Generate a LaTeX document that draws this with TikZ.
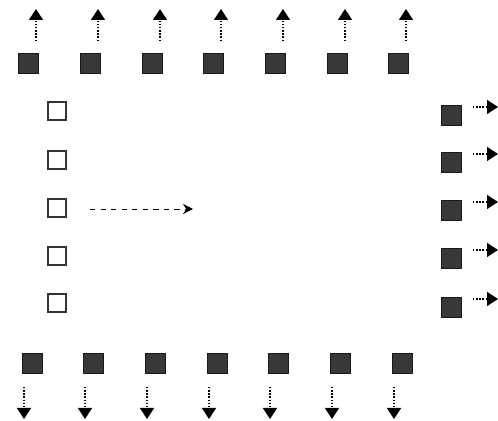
\documentclass[tikz,border=0pt]{standalone}
\usetikzlibrary{positioning, arrows.meta}
\tikzset{
pin/.style = {rectangle, draw = black!90, fill = black!78, thin, inner sep = 0pt,
	minimum size = 4mm},
port/.style = {rectangle, draw = black!80, thick, inner sep = 0pt,
	minimum size = 3.6mm},
signal/.style = {-{Triangle[length = 2.2mm, width = 2.8mm]}, densely dotted, thick},
flow/.style = {-{Stealth[length = 2mm, width = 2mm]}, dashed, thin}
}

\begin{document}
\begin{tikzpicture}[x = 0.02cm, y = -0.02cm]
\useasboundingbox (0,0) rectangle (498,421);

%% The top row and its outputs
\foreach \i/\x in {1/28, 2/90, 3/152, 4/213, 5/275, 6/337, 7/398} {
	\node [pin] (t\i) at (\x,63) {};
	\coordinate (ta\i) at (\x+8,41);
	\coordinate (tb\i) at (\x+8,9);
	\draw [signal] (ta\i) -- (tb\i);
}

%% The bottom row and its outputs
\foreach \i/\x in {1/32, 2/93, 3/155, 4/217, 5/278, 6/340, 7/402} {
	\node [pin] (b\i) at (\x,363) {};
	\coordinate (ba\i) at (\x-8,387);
	\coordinate (bb\i) at (\x-8,419);
	\draw [signal] (ba\i) -- (bb\i);
}

%% The inputs on the left
\foreach \i/\y in {1/111, 2/160, 3/208, 4/256, 5/303}
	\node [port] (p\i) at (57,\y) {};
\coordinate (fa) at (90,209);
\coordinate (fb) at (193,209);
\draw [flow] (fa) -- (fb);

%% The outputs on the right
\foreach \i/\y in {1/115, 2/162, 3/210, 4/258, 5/307} {
	\node [pin] (r\i) at (451,\y) {};
	\coordinate (ra\i) at (473,\y-8);
	\coordinate (rb\i) at (498,\y-8);
	\draw [signal] (ra\i) -- (rb\i);
}

\end{tikzpicture}
\end{document}
